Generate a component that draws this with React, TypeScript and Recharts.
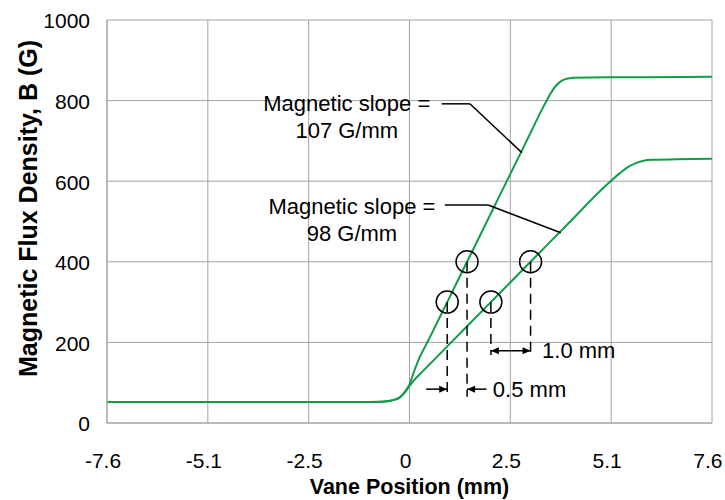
import { LineChart, Line, XAxis, YAxis, CartesianGrid, ReferenceLine, ReferenceDot, Label } from 'recharts';

// axis ticks (mm, shown with one decimal) and flux ticks (G)
const xTicks = [-7.62, -5.08, -2.54, 0, 2.54, 5.08, 7.62];
const yTicks = [0, 200, 400, 600, 800, 1000];

// steep curve (107 G/mm label)
const steepX = [-7.62, -1.2, -0.7, -0.45, -0.25, -0.1, 0, 0.1, 0.2, 0.5, 1.0, 1.5, 2.0, 2.5, 3.0, 3.4, 3.55, 3.7, 3.85, 4.0, 4.15, 5.0, 6.0, 7.62];
const steepB = [52, 52, 53, 56, 63, 80, 96, 124, 150, 210, 310, 410, 510, 610, 710, 790, 817, 838, 850, 855, 857, 858, 858, 859];

// shallow curve (98 G/mm label)
const shallowX = [-7.62, -1.2, -0.7, -0.45, -0.25, -0.1, 0, 0.15, 0.35, 1.0, 2.0, 3.0, 4.0, 4.9, 5.1, 5.3, 5.5, 5.7, 5.9, 6.1, 7.62];
const shallowB = [52, 52, 53, 56, 63, 78, 92, 110, 130, 195, 295, 395, 495, 585, 603, 620, 635, 645, 651, 653, 656];

// circled points and where their dashed drop lines end
const markX = [0.95, 1.45, 2.05, 3.05];
const markB = [300, 400, 300, 400];
const dropB = [65, 65, 169, 169];

// leader lines from the slope labels to the curves
const steepLeaderX = [0.81, 1.52, 2.83];
const steepLeaderB = [792, 792, 671];
const shallowLeaderX = [0.89, 1.98, 3.81];
const shallowLeaderB = [541, 541, 472];

// dimension arrows: [from, to] in mm, at flux level
const halfArrowFrom = [0.42, 1.94];
const halfArrowTo = [0.95, 1.45];
const halfArrowB = 84;
const fullArrowX = [2.05, 3.05];
const fullArrowB = 179;

const notes = [
  { x: -1.58, b: 792, text: 'Magnetic slope =', anchor: 'middle' },
  { x: -1.58, b: 727, text: '107 G/mm', anchor: 'middle' },
  { x: -1.45, b: 537, text: 'Magnetic slope =', anchor: 'middle' },
  { x: -1.45, b: 471, text: '98 G/mm', anchor: 'middle' },
  { x: 2.1, b: 84, text: '0.5 mm', anchor: 'start' },
  { x: 3.34, b: 179, text: '1.0 mm', anchor: 'start' },
];

const steepData = steepX.map((x, i) => ({ x, b: steepB[i] }));
const shallowData = shallowX.map((x, i) => ({ x, b: shallowB[i] }));

const GREEN = '#119c48';
const GRID = '#a3a3a3';

const head = (x1: number, y1: number, x2: number, y2: number) => {
  const len = Math.hypot(x2 - x1, y2 - y1) || 1;
  const ux = (x2 - x1) / len;
  const uy = (y2 - y1) / len;
  const L = 8;
  const W = 3.5;
  const bx = x2 - ux * L;
  const by = y2 - uy * L;
  return `${x2},${y2} ${bx - uy * W},${by + ux * W} ${bx + uy * W},${by - ux * W}`;
};

const arrowShape = (both: boolean) => (p: any) => {
  const { x1, y1, x2, y2 } = p;
  return (
    <g>
      <line x1={x1} y1={y1} x2={x2} y2={y2} stroke="#000" strokeWidth={1.5} />
      <polygon points={head(x1, y1, x2, y2)} fill="#000" />
      {both && <polygon points={head(x2, y2, x1, y1)} fill="#000" />}
    </g>
  );
};

const noteShape = (text: string, anchor: string) => (p: any) => (
  <text x={p.cx} y={p.cy} textAnchor={anchor} dominantBaseline="central" fontSize={22} fill="#000">
    {text}
  </text>
);

const YTitle = (props: any) => {
  const vb = props.viewBox;
  const cx = vb.x + 37;
  const cy = vb.y + vb.height / 2 - 13;
  return (
    <text x={cx} y={cy} transform={`rotate(-90 ${cx} ${cy})`} textAnchor="middle" fontSize={25} fontWeight="bold" fill="#000">
      Magnetic Flux Density, B (G)
    </text>
  );
};

const XTitle = (props: any) => {
  const vb = props.viewBox;
  return (
    <text x={vb.x + vb.width / 2} y={vb.y + 71} textAnchor="middle" fontSize={21.5} fontWeight="bold" fill="#000">
      Vane Position (mm)
    </text>
  );
};

export default function App() {
  return (
    <div style={{ position: 'absolute', left: 0, top: 0 }}>
      <LineChart
        width={725}
        height={500}
        margin={{ top: 20, right: 13, left: 0, bottom: 0 }}
        style={{ fontFamily: '"Liberation Sans", Arial, sans-serif', background: '#fff' }}
      >
        <CartesianGrid stroke={GRID} />
        <XAxis
          type="number"
          dataKey="x"
          domain={[-7.62, 7.62]}
          ticks={xTicks}
          tickFormatter={(v: number) => (v === 0 ? '0' : v.toFixed(1))}
          height={77}
          tickSize={0}
          tickMargin={30}
          tickLine={false}
          axisLine={{ stroke: GRID }}
          tick={{ fill: '#000', fontSize: 21, dx: -4 }}
          allowDuplicatedCategory={false}
        >
          <Label content={XTitle} />
        </XAxis>
        <YAxis
          type="number"
          dataKey="b"
          domain={[0, 1000]}
          ticks={yTicks}
          width={107}
          tickSize={0}
          tickMargin={17}
          tickLine={false}
          axisLine={{ stroke: GRID }}
          tick={{ fill: '#000', fontSize: 21, dy: 1 }}
        >
          <Label content={YTitle} />
        </YAxis>

        <Line data={steepData} dataKey="b" type="monotone" stroke={GREEN} strokeWidth={2} dot={false} isAnimationActive={false} />
        <Line data={shallowData} dataKey="b" type="monotone" stroke={GREEN} strokeWidth={2} dot={false} isAnimationActive={false} />

        {markX.map((x, i) => (
          <ReferenceLine
            key={`drop${i}`}
            segment={[{ x, y: markB[i] }, { x, y: dropB[i] }]}
            stroke="#000"
            strokeWidth={1.5}
            strokeDasharray="10 6"
          />
        ))}
        {markX.map((x, i) => (
          <ReferenceDot key={`mark${i}`} x={x} y={markB[i]} r={11} fill="none" stroke="#000" strokeWidth={1.5} />
        ))}

        {[0, 1].map((i) => (
          <ReferenceLine
            key={`sl${i}`}
            segment={[{ x: steepLeaderX[i], y: steepLeaderB[i] }, { x: steepLeaderX[i + 1], y: steepLeaderB[i + 1] }]}
            stroke="#000"
            strokeWidth={1.5}
          />
        ))}
        {[0, 1].map((i) => (
          <ReferenceLine
            key={`hl${i}`}
            segment={[{ x: shallowLeaderX[i], y: shallowLeaderB[i] }, { x: shallowLeaderX[i + 1], y: shallowLeaderB[i + 1] }]}
            stroke="#000"
            strokeWidth={1.5}
          />
        ))}

        {halfArrowFrom.map((x, i) => (
          <ReferenceLine
            key={`ha${i}`}
            segment={[{ x, y: halfArrowB }, { x: halfArrowTo[i], y: halfArrowB }]}
            shape={arrowShape(false)}
          />
        ))}
        <ReferenceLine
          segment={[{ x: fullArrowX[0], y: fullArrowB }, { x: fullArrowX[1], y: fullArrowB }]}
          shape={arrowShape(true)}
        />

        {notes.map((n, i) => (
          <ReferenceDot key={`note${i}`} x={n.x} y={n.b} r={1} shape={noteShape(n.text, n.anchor)} />
        ))}
      </LineChart>
    </div>
  );
}
